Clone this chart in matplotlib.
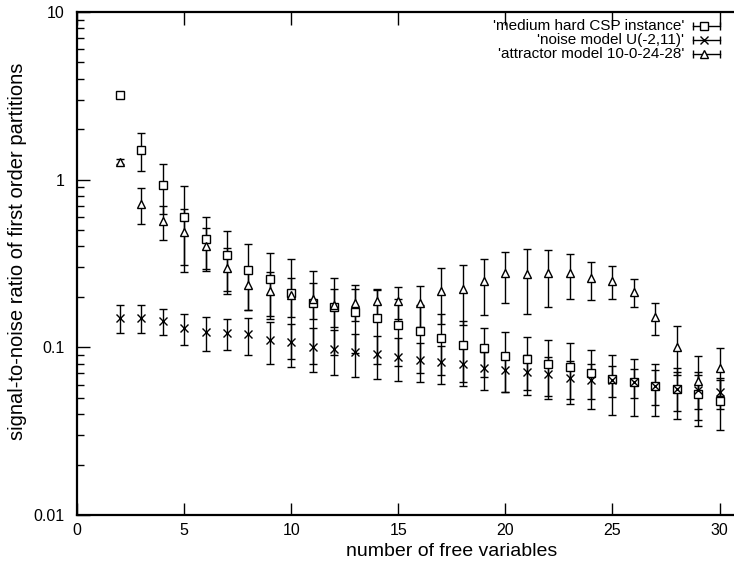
import numpy as np
import matplotlib
matplotlib.use("Agg")
import matplotlib.pyplot as plt
from matplotlib.ticker import FixedLocator, NullFormatter, NullLocator

plt.rcParams['font.family'] = ['Liberation Sans', 'DejaVu Sans']

# number of free variables
n_free = np.arange(2, 31)

# 'medium hard CSP instance'
csp_val = [3.2, 1.51, 0.93, 0.60, 0.44, 0.357, 0.29, 0.256, 0.210, 0.183,
           0.175, 0.163, 0.150, 0.136, 0.125, 0.113, 0.103, 0.0988, 0.089, 0.0853,
           0.080, 0.076, 0.070, 0.0646, 0.062, 0.059, 0.0565, 0.0525, 0.048]
csp_err = [0.15, 0.38, 0.31, 0.32, 0.155, 0.14, 0.124, 0.108, 0.125, 0.103,
           0.085, 0.071, 0.070, 0.059, 0.055, 0.045, 0.041, 0.032, 0.035, 0.030,
           0.031, 0.030, 0.027, 0.025, 0.023, 0.020, 0.019, 0.0185, 0.016]

# 'noise model U(-2,11)'
noise_val = [0.150, 0.150, 0.144, 0.131, 0.123, 0.122, 0.120, 0.111, 0.107, 0.101,
             0.0975, 0.0935, 0.091, 0.088, 0.084, 0.0815, 0.079, 0.075, 0.0733, 0.071,
             0.069, 0.066, 0.064, 0.064, 0.062, 0.059, 0.0565, 0.0557, 0.0545]
noise_err = [0.029, 0.028, 0.025, 0.028, 0.028, 0.025, 0.030, 0.031, 0.031, 0.030,
             0.029, 0.027, 0.026, 0.025, 0.022, 0.021, 0.020, 0.019, 0.019, 0.019,
             0.018, 0.017, 0.015, 0.0135, 0.012, 0.014, 0.015, 0.013, 0.0115]

# 'attractor model 10-0-24-28'
attr_val = [1.28, 0.716, 0.567, 0.49, 0.403, 0.299, 0.235, 0.218, 0.205, 0.195,
            0.178, 0.184, 0.189, 0.189, 0.183, 0.218, 0.222, 0.247, 0.277, 0.273,
            0.277, 0.277, 0.258, 0.249, 0.215, 0.151, 0.101, 0.063, 0.075]
attr_err = [0.04, 0.17, 0.13, 0.18, 0.11, 0.09, 0.068, 0.065, 0.053, 0.047,
            0.045, 0.04, 0.034, 0.041, 0.05, 0.081, 0.086, 0.091, 0.094, 0.114,
            0.103, 0.082, 0.066, 0.055, 0.042, 0.033, 0.033, 0.026, 0.024]

series_labels = ["'medium hard CSP instance'", "'noise model U(-2,11)'",
                 "'attractor model 10-0-24-28'"]
series = [(csp_val, csp_err, 's', 5.5), (noise_val, noise_err, 'x', 5.5),
          (attr_val, attr_err, '^', 6)]

W, H = 734, 563
fig = plt.figure(figsize=(W / 100, H / 100), dpi=100)
# plot box in pixels (right border lies just outside the picture, as in the original)
left_px, right_px, top_px, bottom_px = 77, 741, 12, 515
ax = fig.add_axes([left_px / W, (H - bottom_px) / H,
                   (right_px - left_px) / W, (bottom_px - top_px) / H])

for (val, err, mk, ms) in series:
    ax.errorbar(n_free, val, yerr=err, fmt=mk, color='black', mfc='white',
                mec='black', ms=ms, mew=1.0, elinewidth=1.0, capsize=3,
                capthick=1.0, zorder=3)

ax.set_yscale('log')
ax.set_ylim(0.01, 10)
ax.set_xlim(0, 31)
ax.set_xticks([0, 5, 10, 15, 20, 25, 30])
ax.xaxis.set_minor_locator(NullLocator())
ax.set_yticks([0.01, 0.1, 1, 10])
ax.set_yticklabels(['0.01', '0.1', '1', '10'])
minors = [m * 10.0 ** e for e in (-2, -1, 0) for m in range(2, 10)]
ax.yaxis.set_minor_locator(FixedLocator(minors))
ax.yaxis.set_minor_formatter(NullFormatter())
ax.tick_params(which='both', direction='in', top=True, right=False,
               labelsize=11.5, width=1.0)
ax.tick_params(axis='x', pad=6)
ax.tick_params(axis='y', pad=9)
ax.tick_params(which='major', length=9)
ax.tick_params(which='minor', length=5)
for sp in ax.spines.values():
    sp.set_linewidth(1.6)
ax.spines['right'].set_visible(False)

ax.set_xlabel('number of free variables', fontsize=14)
ax.set_ylabel('signal-to-noise ratio of first order partitions', fontsize=14.5)
ax.xaxis.set_label_coords((452 - left_px) / (right_px - left_px),
                          (bottom_px - 551) / (bottom_px - top_px))
ax.yaxis.set_label_coords((18 - left_px) / (right_px - left_px),
                          (bottom_px - 251) / (bottom_px - top_px))
ax.xaxis.label.set_va('center')
ax.yaxis.label.set_va('center')

# gnuplot style key, drawn by hand in pixel positions
def px_to_axes(x, y):
    return ((x - left_px) / (right_px - left_px),
            (bottom_px - y) / (bottom_px - top_px))

for i, (lab, (val, err, mk, ms)) in enumerate(zip(series_labels, series)):
    y = 26 + 14 * i
    tx, ty = px_to_axes(684, y)
    ax.text(tx, ty, lab, transform=ax.transAxes, ha='right', va='center',
            fontsize=11)
    x0, yy = px_to_axes(693, y)
    x1, _ = px_to_axes(720, y)
    xm, _ = px_to_axes(704, y)
    ax.plot([x0, x1], [yy, yy], color='black', lw=1.0, transform=ax.transAxes,
            clip_on=False)
    ax.plot([x0, x1], [yy, yy], ls='none', marker='|', ms=6, mew=1.0,
            color='black', transform=ax.transAxes, clip_on=False)
    ax.plot([xm], [yy], ls='none', marker=mk, ms=ms, mfc='white', mec='black',
            mew=1.0, transform=ax.transAxes, clip_on=False)

fig.savefig('out.png', dpi=100)
